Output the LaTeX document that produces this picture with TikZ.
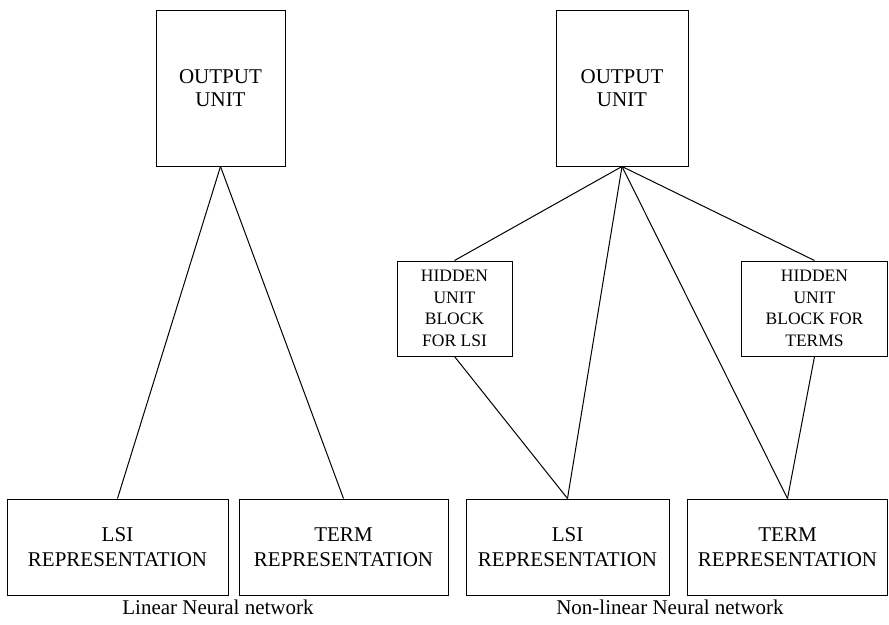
\documentclass[tikz,border=0pt]{standalone}
\usepackage{fontspec}
\setmainfont{Liberation Serif}
\newfontfamily\labelfont{Liberation Serif}
\begin{document}
\begin{tikzpicture}[x=1pt,y=-1pt,
  unitbox/.style={draw,line width=1pt,inner sep=0pt,align=center,
    font=\labelfont\fontsize{21}{23}\selectfont},
  repbox/.style={unitbox,font=\labelfont\fontsize{21}{25}\selectfont},
  hidbox/.style={draw,line width=1pt,inner sep=0pt,align=center,
    font=\labelfont\fontsize{17.5}{21.7}\selectfont},
  link/.style={line width=1pt},
  caption/.style={font=\labelfont\fontsize{21}{24}\selectfont,inner sep=0pt}]
\useasboundingbox (0,0) rectangle (889,624);

% linear network
\node[unitbox,minimum width=129pt,minimum height=156pt] (outL) at (220.5,88) {OUTPUT\\UNIT};
\node[repbox,minimum width=221pt,minimum height=96pt] (lsiL) at (117.5,547) {LSI\\REPRESENTATION};
\node[repbox,minimum width=209pt,minimum height=96pt] (termL) at (343.5,547) {TERM\\REPRESENTATION};
\node[caption] (capL) at (218,607) {Linear Neural network};

\draw[link] (outL.south) -- (lsiL.north);
\draw[link] (outL.south) -- (termL.north);

% non-linear network
\node[unitbox,minimum width=132pt,minimum height=156pt] (outN) at (622,88) {OUTPUT\\UNIT};
\node[hidbox,minimum width=115pt,minimum height=95pt] (hidLsi) at (454.5,308.5) {HIDDEN\\UNIT\\BLOCK\\FOR LSI};
\node[hidbox,minimum width=146pt,minimum height=95pt] (hidTerm) at (814.5,308.5) {HIDDEN\\UNIT\\BLOCK FOR\\TERMS};
\node[repbox,minimum width=203pt,minimum height=96pt] (lsiN) at (567.5,547) {LSI\\REPRESENTATION};
\node[repbox,minimum width=200pt,minimum height=96pt] (termN) at (787.5,547) {TERM\\REPRESENTATION};
\node[caption] (capN) at (670,607) {Non-linear Neural network};

\draw[link] (outN.south) -- (hidLsi.north);
\draw[link] (outN.south) -- (lsiN.north);
\draw[link] (outN.south) -- (termN.north);
\draw[link] (outN.south) -- (hidTerm.north);
\draw[link] (hidLsi.south) -- (lsiN.north);
\draw[link] (hidTerm.south) -- (termN.north);
\end{tikzpicture}
\end{document}
